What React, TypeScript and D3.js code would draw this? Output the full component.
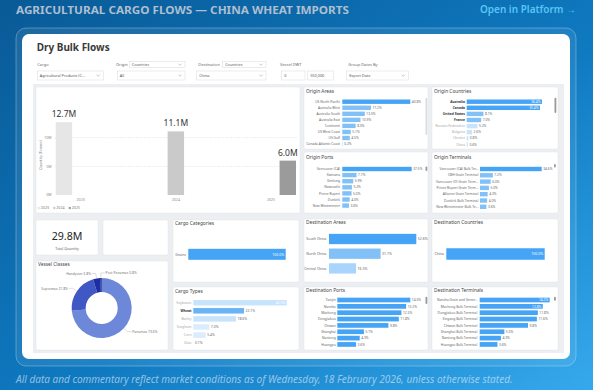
import React from 'react';
import * as d3 from 'd3';

// ---------------- data ----------------
const years = ['2023', '2024', '2025'];
const yearQuantityM = [12.7, 11.1, 6.0];
const quantityTicksM = [0, 5, 10];

const originAreas = ['US North Pacific', 'Australia West', 'Australia South', 'Australia East', 'Continent', 'US West Coast', 'US Gulf', 'Canada Atlantic Coast'];
const originAreaShare = [40.8, 17.2, 13.5, 10.9, 8.0, 5.1, 4.5, 0.2];

const originCountries = ['Australia', 'Canada', 'United States', 'France', 'Russian Federation', 'Bulgaria', 'Ukraine', 'China'];
const originCountryShare = [36.4, 35.4, 8.1, 7.0, 5.2, 2.6, 0.8, 0.6];

const originPorts = ['Vancouver (CA)', 'Kwinana', 'Geelong', 'Newcastle', 'Prince Rupert', 'Dunkirk', 'New Westminster'];
const originPortShare = [37.5, 7.7, 5.9, 5.2, 5.0, 4.0, 3.6];

const originTerminals = ['Vancouver (CA) Bulk Ter...', 'CBH Grain Terminal', 'Vancouver (D) Grain Term...', 'Prince Rupert Grain Term...', 'Alliance Grain Terminal', 'Dunkirk Bulk Terminal', 'New Westminster Bulk Te...'];
const originTerminalShare = [34.6, 7.2, 6.0, 5.0, 4.3, 4.0, 3.6];

const vesselClasses = ['Panamax', 'Supramax', 'Handysize', 'Post Panamax'];
const vesselShare = [73.6, 21.8, 3.8, 0.8];

const cargoCategories = ['Grains'];
const cargoCategoryShare = [100.0];

const cargoTypes = ['Soybeans', 'Wheat', 'Barley', 'Sorghum', 'Corn', 'Oats'];
const cargoTypeShare = [40.7, 22.1, 18.6, 7.0, 5.4, 0.1];

const destinationAreas = ['South China', 'North China', 'Central China'];
const destinationAreaShare = [52.6, 31.1, 16.3];

const destinationCountries = ['China'];
const destinationCountryShare = [100.0];

const destinationPorts = ['Tianjin', 'Nansha', 'Machong', 'Dongjiakou', 'Chiwan', 'Shanghai', 'Nantong', 'Huangpu'];
const destinationPortShare = [14.0, 13.2, 12.3, 11.8, 9.8, 5.1, 4.3, 3.6];

const destinationTerminals = ['Nansha Grain and Gener...', 'Machong Bulk Terminal', 'Dongjiakou Bulk Terminal', 'Xingang Bulk Terminal', 'Chiwan Bulk Terminal', 'Shanghai Bulk Terminal', 'Nantong Bulk Terminal', 'Huangpu Bulk Terminal'];
const destinationTerminalShare = [14.2, 12.8, 11.8, 11.6, 9.8, 5.0, 4.3, 3.6];

// ---------------- styling ----------------
const FONT = "'Noto Sans', 'Open Sans', sans-serif";
const C = { dark: '#45a4f5', mid: '#82c1f8', soft: '#a9d4fb', light: '#c8e4fd', pale: '#d9edfe' };
const fmt1 = d3.format('.1f');

function Card({ x, y, w, h }: { x: number; y: number; w: number; h: number }) {
  return <rect x={x} y={y} width={w} height={h} rx={1.5} fill="#fff" stroke="#e1e4e8" strokeWidth={0.5} />;
}

type PanelProps = {
  x: number; y: number; w: number; h: number;
  title: string; titleY: number;
  cats: string[]; vals: number[]; tones: string[];
  labelX: number; barX: number; barW: number;
  y0: number; step: number; barH: number;
  font: number; limit: number;
  bold?: string[];
  scroll?: { x: number; y1: number; y2: number; c: string };
};

function HBarPanel(p: PanelProps) {
  const xs = d3.scaleLinear().domain([0, d3.max(p.vals) as number]).range([0, p.barW]);
  const n = p.cats.length;
  const pad = 1 - p.barH / p.step;
  const top = p.y0 - p.step / 2;
  const ys = d3.scaleBand<string>().domain(p.cats).range([top, top + n * p.step]).paddingInner(pad).paddingOuter(pad / 2);
  return (
    <g fontFamily={FONT}>
      <Card x={p.x} y={p.y} w={p.w} h={p.h} />
      <text x={p.x + 2} y={p.titleY} dy="0.35em" fontSize={4.8} fill="#444">{p.title}</text>
      {p.cats.map((c, i) => {
        const v = p.vals[i];
        const by = ys(c) as number;
        const bw = xs(v);
        const cy = by + ys.bandwidth() / 2;
        const label = `${fmt1(v)}%`;
        const tw = label.length * p.font * 0.56;
        const inside = p.barX + bw + 1.5 + tw > p.limit;
        const isBold = p.bold ? p.bold.includes(c) : false;
        const lf = p.bold ? (isBold ? '#333' : '#a8a8a8') : '#666';
        return (
          <g key={c}>
            <text x={p.labelX} y={cy} dy="0.35em" textAnchor="end" fontSize={p.font} fill={lf} fontWeight={isBold ? 700 : 400}>{c}</text>
            <rect x={p.barX} y={by} width={bw} height={ys.bandwidth()} fill={p.tones[Math.min(i, p.tones.length - 1)]} />
            <text x={inside ? p.barX + bw - 1.5 : p.barX + bw + 1.5} y={cy} dy="0.35em" textAnchor={inside ? 'end' : 'start'}
              fontSize={p.font} fill={inside ? '#fff' : '#666'}>{label}</text>
          </g>
        );
      })}
      {p.scroll && <rect x={p.scroll.x} y={p.scroll.y1} width={1.8} height={p.scroll.y2 - p.scroll.y1} rx={0.9} fill={p.scroll.c} />}
    </g>
  );
}

function YearBars() {
  const x0 = d3.scaleBand<string>().domain(years).range([55.7, 296]).paddingInner(0.475).paddingOuter(0);
  const x1 = d3.scaleBand<string>().domain(years).range([0, x0.bandwidth()]).paddingInner(0.02);
  const y = d3.scaleLinear().domain([0, 10]).range([195, 137.7]);
  const colors = ['#e6e6e6', '#cacaca', '#9b9b9b'];
  return (
    <g fontFamily={FONT}>
      <Card x={36} y={87} w={264} h={126} />
      {quantityTicksM.map(t => (
        <g key={t}>
          {t > 0 && <line x1={55} x2={297} y1={y(t)} y2={y(t)} stroke="#d6d6d6" strokeWidth={0.5} strokeDasharray="1.5 1.2" />}
          <text x={51.5} y={y(t)} dy="0.35em" textAnchor="end" fontSize={3.6} fill="#8a8a8a">{`${t}M`}</text>
        </g>
      ))}
      <text transform={`translate(40.5,155) rotate(-90)`} textAnchor="middle" dy="0.35em" fontSize={3.6} fill="#8a8a8a">Quantity (Tonnes)</text>
      {years.map((yr, i) => {
        const bx = (x0(yr) as number) + (x1(yr) as number);
        const v = yearQuantityM[i];
        return (
          <g key={yr}>
            <rect x={bx} y={y(v)} width={x1.bandwidth()} height={y(0) - y(v)} fill={colors[i]} />
            <text x={bx + x1.bandwidth() / 2} y={y(v) - 5} textAnchor="middle" fontSize={8.5} fill="#333">{`${fmt1(v)}M`}</text>
            <text x={(x0(yr) as number) + x0.bandwidth() / 2} y={199.5} dy="0.35em" textAnchor="middle" fontSize={3.6} fill="#8a8a8a">{yr}</text>
          </g>
        );
      })}
      {years.map((yr, i) => (
        <g key={'lg' + yr} transform={`translate(${38.8 + i * 15.5},208)`}>
          <circle cx={0} cy={0} r={1.2} fill={colors[i]} />
          <text x={2} y={0} dy="0.35em" fontSize={3.6} fill="#777">{yr}</text>
        </g>
      ))}
    </g>
  );
}

function VesselDonut() {
  const cx = 101.7, cy = 308, ro = 30, ri = 16;
  const colors = ['#6d88d8', '#3f58c3', '#1b2ea4', '#0f1d86'];
  const arcs = d3.pie<number>().sort(null).startAngle(0).endAngle(Math.PI * 2)(vesselShare);
  const arc = d3.arc<d3.PieArcDatum<number>>().innerRadius(ri).outerRadius(ro);
  const placed: { side: number; y: number }[] = [];
  const labels = arcs.map((a, i) => {
    const mid = (a.startAngle + a.endAngle) / 2;
    let side = Math.sin(mid) >= 0 ? 1 : -1;
    const p1 = [cx + (ro + 0.5) * Math.sin(mid), cy - (ro + 0.5) * Math.cos(mid)];
    const p2 = [cx + (ro + 5) * Math.sin(mid), cy - (ro + 5) * Math.cos(mid)];
    if (placed.some(q => q.side === side && Math.abs(q.y - p2[1]) < 5)) side = -side;
    placed.push({ side, y: p2[1] });
    const p3 = [p2[0] + side * 4, p2[1]];
    return { i, p1, p2, p3, side };
  });
  return (
    <g fontFamily={FONT}>
      <Card x={36} y={261} w={132} h={89} />
      <text x={38} y={264.5} dy="0.35em" fontSize={4.8} fill="#444">Vessel Classes</text>
      <g transform={`translate(${cx},${cy})`}>
        {arcs.map((a, i) => <path key={i} d={arc(a) as string} fill={colors[i]} />)}
      </g>
      {labels.map(l => (
        <g key={l.i}>
          <polyline points={`${l.p1[0]},${l.p1[1]} ${l.p2[0]},${l.p2[1]} ${l.p3[0]},${l.p3[1]}`} fill="none" stroke="#a0a0a0" strokeWidth={0.35} />
          <text x={l.p3[0] + l.side * 0.8} y={l.p3[1]} dy="0.35em" textAnchor={l.side > 0 ? 'start' : 'end'} fontSize={3.4} fill="#777">
            {`${vesselClasses[l.i]} ${fmt1(vesselShare[l.i])}%`}
          </text>
        </g>
      ))}
    </g>
  );
}

function Dropdown({ x, y, w, h, text, chevron = true }: { x: number; y: number; w: number; h: number; text: string; chevron?: boolean }) {
  const cx = x + w - 5, cy = y + h / 2;
  return (
    <g>
      <rect x={x} y={y} width={w} height={h} fill="#fff" stroke="#cfcfcf" strokeWidth={0.4} />
      <text x={x + 2.5} y={cy} dy="0.35em" fontSize={3.8} fill="#555">{text}</text>
      {chevron && <polyline points={`${cx - 1.6},${cy - 0.8} ${cx},${cy + 0.8} ${cx + 1.6},${cy - 0.8}`} fill="none" stroke="#777" strokeWidth={0.4} />}
    </g>
  );
}

function Filters() {
  const lab = (x: number, t: string) => <text x={x} y={64.3} dy="0.35em" fontSize={4} fill="#666">{t}</text>;
  return (
    <g fontFamily={FONT}>
      <text x={36.7} y={51} fontSize={10.5} fontWeight={700} fill="#3a3a3a" textLength={73} lengthAdjust="spacingAndGlyphs">Dry Bulk Flows</text>
      {lab(37.3, 'Cargo')}
      <Dropdown x={37.3} y={71} w={66} h={9} text="Agricultural Products (C..." />
      {lab(116, 'Origin')}
      <Dropdown x={129.3} y={61.5} w={55.7} h={6} text="Countries" />
      <Dropdown x={117.3} y={71} w={67.7} h={9} text="All" />
      {lab(198.3, 'Destination')}
      <Dropdown x={222.7} y={61.5} w={43.3} h={6} text="Countries" />
      <Dropdown x={196.7} y={71} w={69.3} h={9} text="China" />
      {lab(280, 'Vessel DWT')}
      <Dropdown x={281.7} y={71} w={23.3} h={9} text="0" chevron={false} />
      <Dropdown x={307.7} y={71} w={25.6} h={9} text="550,000" chevron={false} />
      {lab(348.3, 'Group Dates By')}
      <Dropdown x={346.7} y={71} w={61.6} h={9} text="Export Date" />
    </g>
  );
}

export default function App() {
  const total = d3.sum(yearQuantityM);
  return (
    <svg width={593} height={390} style={{ position: 'fixed', left: 0, top: 0, display: 'block' }}>
      <defs>
        <linearGradient id="bg" x1="0" y1="0" x2="1" y2="1">
          <stop offset="0" stopColor="#095a96" />
          <stop offset="0.55" stopColor="#0f79c0" />
          <stop offset="1" stopColor="#36a9ec" />
        </linearGradient>
      </defs>
      <rect x={0} y={0} width={593} height={390} fill="url(#bg)" />
      <text x={16} y={13.5} fontFamily={FONT} fontWeight={700} fontSize={10.8} fill="#aebfd0" textLength={333} lengthAdjust="spacingAndGlyphs">AGRICULTURAL CARGO FLOWS — CHINA WHEAT IMPORTS</text>
      <text x={576} y={13.2} textAnchor="end" fontFamily={FONT} fontWeight={600} fontSize={10} fill="#58c6f6">Open in Platform →</text>

      <rect x={16} y={28} width={560} height={338} rx={10} fill="rgba(255,255,255,0.08)" stroke="rgba(255,255,255,0.28)" strokeWidth={1} />
      <rect x={22} y={34} width={548} height={325} rx={7} fill="#ffffff" />

      <Filters />
      <rect x={33} y={84} width={531} height={269} fill="#eceef1" />

      <YearBars />

      <HBarPanel x={304} y={87} w={124} h={62} title="Origin Areas" titleY={91}
        cats={originAreas} vals={originAreaShare} tones={[C.dark, C.mid]}
        labelX={340} barX={342.3} barW={68} y0={101.7} step={6.05} barH={4.4} font={3.3} limit={424}
        scroll={{ x: 425.5, y1: 98, y2: 135, c: '#dcdcdc' }} />
      <HBarPanel x={432} y={87} w={126} h={62} title="Origin Countries" titleY={91}
        cats={originCountries} vals={originCountryShare} tones={[C.dark, C.dark, C.mid, C.mid, C.light]}
        labelX={465} barX={466.7} barW={75.3} y0={101.7} step={6.1} barH={4.4} font={3.3} limit={550}
        bold={['Australia', 'Canada', 'United States', 'France']}
        scroll={{ x: 554.5, y1: 97.7, y2: 113, c: '#9a9a9a' }} />
      <HBarPanel x={304} y={152} w={124} h={61} title="Origin Ports" titleY={157.3}
        cats={originPorts} vals={originPortShare} tones={[C.dark, C.mid]}
        labelX={340} barX={342.3} barW={69.4} y0={169} step={6.1} barH={4.4} font={3.3} limit={424}
        scroll={{ x: 425.5, y1: 166.5, y2: 171, c: '#9a9a9a' }} />
      <HBarPanel x={432} y={152} w={126} h={61} title="Origin Terminals" titleY={157.3}
        cats={originTerminals} vals={originTerminalShare} tones={[C.dark, C.mid]}
        labelX={478.3} barX={480} barW={61.7} y0={169} step={6.3} barH={4.4} font={3.3} limit={557}
        scroll={{ x: 554, y1: 164, y2: 167.5, c: '#9a9a9a' }} />

      <g fontFamily={FONT}>
        <Card x={36} y={220} w={62} h={35} />
        <text x={67} y={240} textAnchor="middle" fontSize={11.5} fill="#252423" textLength={30.7} lengthAdjust="spacingAndGlyphs">{`${fmt1(total)}M`}</text>
        <text x={67} y={248.5} dy="0.35em" textAnchor="middle" fontSize={3.6} fill="#666">Total Quantity</text>
        <Card x={103} y={220} w={65} h={35} />
      </g>
      <VesselDonut />

      <HBarPanel x={173} y={220} w={126} h={62} title="Cargo Categories" titleY={223.3}
        cats={cargoCategories} vals={cargoCategoryShare} tones={[C.dark]}
        labelX={186} barX={188.3} barW={97.4} y0={254.3} step={14} barH={11} font={3.5} limit={296} />
      <HBarPanel x={173} y={287} w={126} h={63} title="Cargo Types" titleY={291}
        cats={cargoTypes} vals={cargoTypeShare} tones={[C.light, '#68b4f6', C.light, C.pale]}
        labelX={191.5} barX={193.3} barW={93.4} y0={302.7} step={8.1} barH={5.5} font={3.4} limit={296}
        bold={['Wheat']} />

      <HBarPanel x={304} y={219} w={124} h={63} title="Destination Areas" titleY={222.3}
        cats={destinationAreas} vals={destinationAreaShare} tones={[C.dark, C.mid, C.soft]}
        labelX={326.3} barX={329} barW={87.3} y0={239} step={14.7} barH={10.3} font={3.5} limit={430} />
      <HBarPanel x={432} y={219} w={126} h={63} title="Destination Countries" titleY={222.3}
        cats={destinationCountries} vals={destinationCountryShare} tones={[C.dark]}
        labelX={444} barX={446.3} barW={98.4} y0={254} step={14} barH={11.5} font={3.5} limit={552} />
      <HBarPanel x={304} y={287} w={124} h={63} title="Destination Ports" titleY={290.3}
        cats={destinationPorts} vals={destinationPortShare} tones={[C.dark]}
        labelX={335.7} barX={337.3} barW={73} y0={300} step={6.35} barH={4.7} font={3.3} limit={424}
        scroll={{ x: 425.5, y1: 296.7, y2: 304, c: '#9a9a9a' }} />
      <HBarPanel x={432} y={287} w={126} h={63} title="Destination Terminals" titleY={290.3}
        cats={destinationTerminals} vals={destinationTerminalShare} tones={[C.dark]}
        labelX={477.3} barX={479.7} barW={70} y0={300} step={6.35} barH={4.7} font={3.3} limit={552}
        scroll={{ x: 554, y1: 296.7, y2: 300.7, c: '#9a9a9a' }} />

      <text x={16} y={382.5} fontFamily={FONT} fontStyle="italic" fontSize={10} fill="rgba(225,238,250,0.62)" textLength={496.5} lengthAdjust="spacingAndGlyphs">All data and commentary reflect market conditions as of Wednesday, 18 February 2026, unless otherwise stated.</text>
    </svg>
  );
}
